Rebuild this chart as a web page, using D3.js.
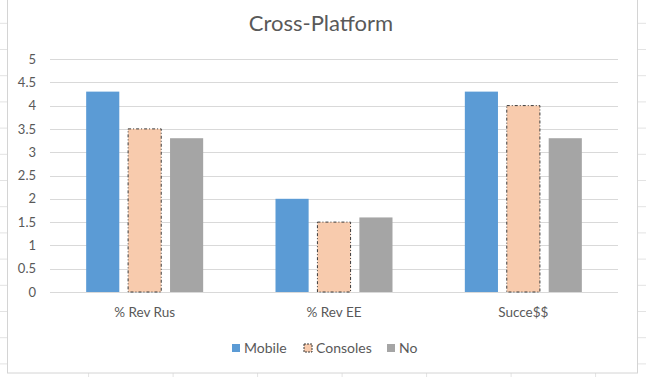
<!DOCTYPE html>
<html><head><meta charset="utf-8">
<script src="https://cdn.jsdelivr.net/npm/d3@7"></script>
<style>body{margin:0;background:#fff}svg{display:block}text{font-family:Lato,"Open Sans",sans-serif;fill:#595959}</style>
</head><body>
<svg id="c" width="646" height="377"></svg>
<script>
const categories = ["% Rev Rus", "% Rev EE", "Succe$$"];
const seriesNames = ["Mobile", "Consoles", "No"];
const mobile = [4.3, 2.0, 4.3];
const consoles = [3.5, 1.5, 4.0];
const no = [3.3, 1.6, 3.3];
const yTicks = [0, 0.5, 1, 1.5, 2, 2.5, 3, 3.5, 4, 4.5, 5];
const colors = ["#5B9BD5", "#F8CBAD", "#A5A5A5"];

const svg = d3.select("#c");
const W = 646, H = 377;

// spreadsheet background grid
const bg = svg.append("g");
d3.range(0, 15).forEach(i => {
  const y = 23.3 + i * 26.2;
  bg.append("line").attr("x1", 0).attr("x2", W).attr("y1", y).attr("y2", y).attr("stroke", "#e3e3e3");
});
d3.range(0, 8).forEach(i => {
  const x = 88.6 + i * 84.5;
  bg.append("line").attr("x1", x).attr("x2", x).attr("y1", 0).attr("y2", H).attr("stroke", "#e3e3e3");
});
// chart box
svg.append("rect").attr("x", 7.5).attr("y", -5).attr("width", 630).attr("height", 378)
  .attr("fill", "#fff").attr("stroke", "#d4d4d4");

const x0 = d3.scaleBand().domain(categories).range([50, 618]);
const y = d3.scaleLinear().domain([0, 5]).range([292, 59]);
const x1 = d3.scaleBand().domain(seriesNames).range([0, 117]).paddingInner(0.21);

// gridlines
svg.append("g").selectAll("line").data(yTicks).join("line")
  .attr("x1", 50).attr("x2", 618).attr("y1", d => Math.round(y(d)) + 0.5).attr("y2", d => Math.round(y(d)) + 0.5)
  .attr("stroke", "#d9d9d9");

// y axis labels
const yAxis = d3.axisLeft(y).tickValues(yTicks).tickSize(0).tickPadding(0).tickFormat(d3.format(""));
const ya = svg.append("g").attr("transform", "translate(36,0)").call(yAxis);
ya.select(".domain").remove();
ya.selectAll("text").style("font-size", "13px").attr("fill", "#595959");

// bars
const data = [mobile, consoles, no];
const groups = svg.append("g").selectAll("g").data(categories).join("g")
  .attr("transform", d => `translate(${x0(d) + x0.bandwidth() / 2 - 58.5},0)`);
groups.selectAll("rect").data((c, ci) => seriesNames.map((s, si) => ({s, si, v: data[si][ci]}))).join("rect")
  .attr("x", d => x1(d.s))
  .attr("y", d => y(d.v))
  .attr("width", x1.bandwidth())
  .attr("height", d => y(0) - y(d.v))
  .attr("fill", d => colors[d.si])
  .attr("stroke", d => d.si === 1 ? "#3a3a3a" : "none")
  .attr("stroke-width", 1)
  .attr("stroke-dasharray", d => d.si === 1 ? "3,2,1,2" : null);

// x axis labels
const xAxis = d3.axisBottom(x0).tickSize(0).tickPadding(0);
const xa = svg.append("g").attr("transform", "translate(0,307)").call(xAxis);
xa.select(".domain").remove();
xa.selectAll("text").style("font-size", "13.5px").attr("fill", "#595959");

// title
svg.append("text").attr("x", 321).attr("y", 31).attr("text-anchor", "middle")
  .style("font-size", "22px").text("Cross-Platform");

// legend
const legX = [232, 304, 387];
const lg = svg.append("g").selectAll("g").data(seriesNames).join("g")
  .attr("transform", (d, i) => `translate(${legX[i]},344)`);
lg.append("rect").attr("width", 8).attr("height", 8)
  .attr("fill", (d, i) => colors[i])
  .attr("stroke", (d, i) => i === 1 ? "#3a3a3a" : "none")
  .attr("stroke-dasharray", (d, i) => i === 1 ? "2,1" : null);
lg.append("text").attr("x", 12).attr("y", 9).style("font-size", "14px").text(d => d);
</script>
</body></html>
